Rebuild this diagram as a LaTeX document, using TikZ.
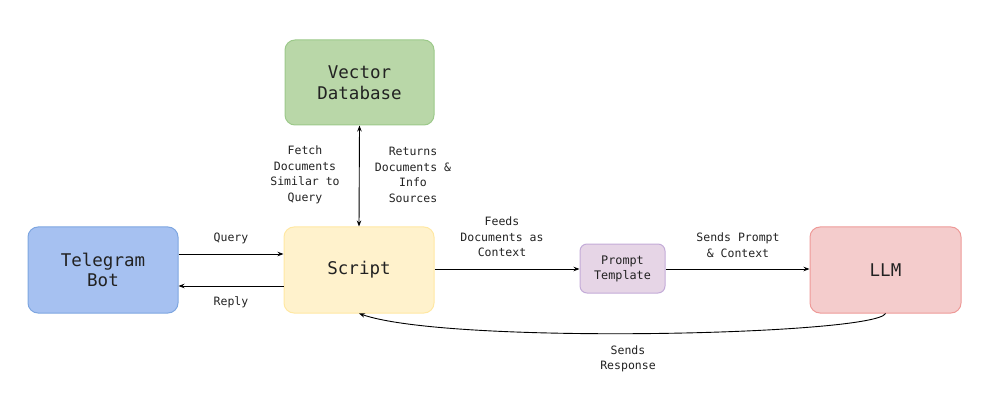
\documentclass[tikz,border=0pt]{standalone}
\usepackage{fontspec}
\setmainfont{DejaVu Sans Mono}
\usetikzlibrary{arrows.meta}
\definecolor{gfill}{HTML}{B9D7A8}\definecolor{gdraw}{HTML}{9CC98A}
\definecolor{bfill}{HTML}{A6C1F1}\definecolor{bdraw}{HTML}{7EA6E0}
\definecolor{yfill}{HTML}{FFF2CC}\definecolor{ydraw}{HTML}{FFE8A3}
\definecolor{pfill}{HTML}{E6D5E6}\definecolor{pdraw}{HTML}{C3ABD8}
\definecolor{rfill}{HTML}{F4CCCC}\definecolor{rdraw}{HTML}{EE9A98}
\definecolor{txt}{HTML}{222222}
\tikzset{
  x=1pt,y=-1pt,
  box/.style={rounded corners=10pt,line width=1pt,align=center,inner sep=0pt,
    font=\fontsize{17.5}{20.5}\selectfont,text=txt},
  lbl/.style={align=center,font=\fontsize{11.5}{15.5}\selectfont,text=txt},
  conn/.style={line width=0.9pt,-{Stealth[length=6pt,width=4.5pt]}},
}
\begin{document}
\begin{tikzpicture}
\useasboundingbox (0,0) rectangle (1008,403);
\node[box,fill=gfill,draw=gdraw,minimum width=149pt,minimum height=85pt] (vdb) at (359.5,82.5) {Vector\\Database};
\node[box,fill=bfill,draw=bdraw,minimum width=150pt,minimum height=86pt] (tg) at (103,270) {Telegram\\Bot};
\node[box,fill=yfill,draw=ydraw,minimum width=150pt,minimum height=86pt] (sc) at (359,270) {Script};
\node[box,rounded corners=7pt,fill=pfill,draw=pdraw,minimum width=85pt,minimum height=49pt,font=\fontsize{11.8}{15}\selectfont] (pt) at (622.5,268.5) {Prompt\\Template};
\node[box,fill=rfill,draw=rdraw,minimum width=151pt,minimum height=86pt] (llm) at (885.5,270) {LLM};

\draw[line width=0.9pt,{Stealth[length=6pt,width=4.5pt]}-{Stealth[length=6pt,width=4.5pt]}] (vdb.south) -- (sc.north);
\draw[conn] (tg.east |- 0,254) -- (sc.west |- 0,254);
\draw[conn] (sc.west |- 0,286) -- (tg.east |- 0,286);
\draw[conn] (sc.east |- 0,269) -- (pt.west |- 0,269);
\draw[conn] (pt.east |- 0,269) -- (llm.west |- 0,269);
\draw[conn] (llm.south) .. controls (875,335) and (450,345) .. (sc.south);

\node[lbl] (l1) at (305,175) {Fetch\\Documents\\Similar to\\Query};
\node[lbl] (l2) at (413,175) {Returns\\Documents \&\\Info\\Sources};
\node[lbl] (l3) at (231,238) {Query};
\node[lbl] (l4) at (231,302) {Reply};
\node[lbl] (l5) at (502,237) {Feeds\\Documents as\\Context};
\node[lbl] (l6) at (738,245) {Sends Prompt\\\& Context};
\node[lbl] (l7) at (628,359) {Sends\\Response};
\end{tikzpicture}
\end{document}
